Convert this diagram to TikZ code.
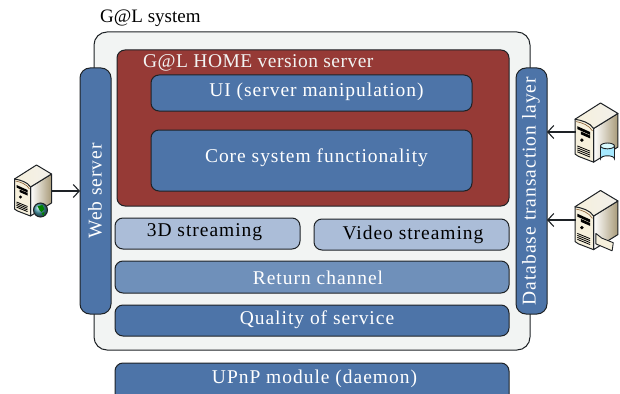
\documentclass[tikz,border=0pt]{standalone}
\usepackage{fontspec}
\setmainfont{Liberation Serif}
\newfontfamily\spaced[LetterSpace=5]{Liberation Serif}
\newfontfamily\midspaced[LetterSpace=2.5]{Liberation Serif}
\usetikzlibrary{arrows.meta}
\definecolor{panel}{HTML}{F2F4F3}
\definecolor{brick}{HTML}{963A36}
\definecolor{blueA}{HTML}{4D74A8}
\definecolor{blueB}{HTML}{6F90BA}
\definecolor{blueC}{HTML}{ABBDD8}
\definecolor{edgeC}{HTML}{1E2226}
\definecolor{creamA}{HTML}{F6F0DC}
\definecolor{tanA}{HTML}{A89A78}
\newcommand{\lbl}{\spaced\fontsize{19.5}{22}\selectfont}
\newcommand{\lblmid}{\midspaced\fontsize{19.5}{22}\selectfont}
\newcommand{\lbltitle}{\fontsize{19}{22}\selectfont}
\newcommand{\srvbody}{%
  \draw[edgeC,line width=1pt,line join=round,left color=white,right color=tanA]
    (16,22)--(37,9)--(37,38)--(16,51)--cycle;
  \draw[edgeC,line width=1pt,line join=round,left color=creamA,right color=white!85!tanA]
    (0,14)--(22,0)--(37,9)--(16,22)--cycle;
  \draw[edgeC,line width=1pt,line join=round,fill=creamA]
    (0,14) .. controls (6,15) and (13,17) .. (16,22)--(16,51)--(3,46)--(0,44)--cycle;
  \draw[brown!70!black,line width=.6pt] (1,16) .. controls (6,17) and (12,19) .. (15,24);
  \fill[black] (2,20)--(13,25)--(13,27.5)--(2,22.5)--cycle;
  \fill[black] (5,24.5)--(13,28)--(13,30.5)--(5,27)--cycle;
  \fill[black] (6,32) circle (1.6);
  \foreach \k in {0,1.7,3.4,5.1} \draw[black,line width=.8pt] (2,37+\k)--(13,41.5+\k);
}
\tikzset{
  x=1pt,y=-1pt,
  blockbox/.style={draw=edgeC,line width=1pt,rounded corners=8pt,inner sep=0pt,outer sep=0pt,anchor=north west},
  bluebox/.style={blockbox,fill=blueA},
  lightbox/.style={blockbox,fill=blueC},
  midbox/.style={blockbox,fill=blueB},
  whitelabel/.style={inner sep=0pt,font=\lbl,text=white},
  darklabel/.style={inner sep=0pt,font=\lbl,text=black},
  icon/.style={inner sep=0pt,outer sep=0pt,minimum width=37pt,minimum height=52pt},
  iconbig/.style={inner sep=0pt,outer sep=0pt,minimum width=43pt,minimum height=58pt},
  link/.style={edgeC,line width=1.1pt,-{Straight Barb[length=6pt,width=13pt,line width=1.1pt]}},
}
\begin{document}
\begin{tikzpicture}
\useasboundingbox (0,0) rectangle (620,393);
\clip (0,0) rectangle (620,393);
\node[blockbox,fill=panel,rounded corners=13pt,minimum width=436pt,minimum height=318pt] (sys) at (94,32) {};
\node[anchor=west,inner sep=0pt,font=\lbltitle,text=black] (systitle) at (100,18) {G@L system};
\node[blockbox,fill=brick,minimum width=392pt,minimum height=156pt] (home) at (117,50) {};
\node[anchor=west,inner sep=0pt,font=\lblmid,text=panel] (hometitle) at (143,63) {G@L HOME version server};
\node[bluebox,minimum width=321pt,minimum height=36pt] (ui) at (151,75) {};
\node[whitelabel] (uilabel) at (316.5,91.5) {UI (server manipulation)};
\node[bluebox,minimum width=321pt,minimum height=61pt] (core) at (151,130) {};
\node[whitelabel] (corelabel) at (316.5,158) {Core system functionality};
\node[lightbox,minimum width=185pt,minimum height=31pt] (threed) at (115,218) {};
\node[darklabel] (threedlabel) at (204.5,232.5) {3D streaming};
\node[lightbox,minimum width=195pt,minimum height=31pt] (video) at (314,219) {};
\node[darklabel] (videolabel) at (413,234.5) {Video streaming};
\node[midbox,minimum width=394pt,minimum height=32pt] (ret) at (115,261) {};
\node[whitelabel] (retlabel) at (318,277.5) {Return channel};
\node[bluebox,minimum width=394pt,minimum height=31pt] (qos) at (115,305) {};
\node[whitelabel] (qoslabel) at (317,319.5) {Quality of service};
\node[bluebox,minimum width=394pt,minimum height=42pt] (upnp) at (115,363) {};
\node[whitelabel] (upnplabel) at (314.5,379) {UPnP module (daemon)};
\node[bluebox,rounded corners=10pt,minimum width=31pt,minimum height=246pt] (web) at (80,68) {};
\node[whitelabel,rotate=90] (weblabel) at (95,191) {Web server};
\node[bluebox,rounded corners=10pt,minimum width=31pt,minimum height=246pt] (db) at (516,68) {};
\node[whitelabel,rotate=90] (dblabel) at (531,191) {Database transaction layer};
\node[icon] (srvw) at (33,191) {};
\node[iconbig] (srvd) at (597,132) {};
\node[iconbig] (srvf) at (597,220) {};
\begin{scope}[shift={(14.5,165)}]
  \srvbody
  \shade[ball color=green!45!blue!70] (26,45) circle (7);
  \draw[edgeC,line width=1pt] (26,45) circle (7);
  \fill[green!50!black] (23,41)--(28,40)--(30,44)--(27,47)--(25,45)--cycle;
  \fill[green!50!black] (27,48)--(30,47)--(29,51)--cycle;
\end{scope}
\begin{scope}[shift={(575,103)},x=1.16pt,y=-1.16pt]
  \srvbody
  \draw[edgeC,line width=.9pt,fill=blue!25!cyan!35] (22,37)--(22,48) arc[start angle=180,end angle=360,x radius=6,y radius=2.5]--(34,37);
  \draw[edgeC,line width=.9pt,fill=blue!10!cyan!15] (28,37) ellipse [x radius=6,y radius=2.5];
\end{scope}
\begin{scope}[shift={(575,190.5)},x=1.16pt,y=-1.16pt]
  \srvbody
  \draw[edgeC,line width=.9pt,fill=creamA,line join=round] (18,37)--(23,41)--(33,45)--(32,52)--(18,46)--cycle;
\end{scope}
\draw[link] (srvw.east) -- (srvw.east -| web.west);
\draw[link] (srvd.west) -- (srvd.west -| db.east);
\draw[link] (srvf.west) -- (srvf.west -| db.east);
\end{tikzpicture}
\end{document}
